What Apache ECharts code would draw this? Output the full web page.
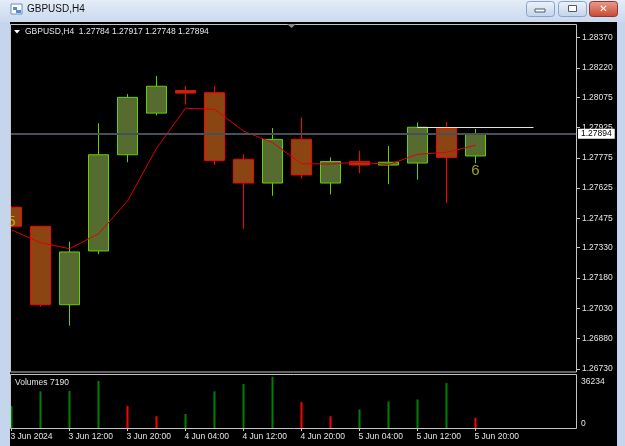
<!DOCTYPE html>
<html><head><meta charset="utf-8">
<script src="https://cdn.jsdelivr.net/npm/echarts@6/dist/echarts.min.js"></script>
<style>html,body{margin:0;padding:0;background:#000;overflow:hidden}#c{width:625px;height:446px}</style>
</head><body><div id="c"></div>
<script>
const symbol = 'GBPUSD,H4';
const times = ['3 Jun 2024','3 Jun 08:00','3 Jun 12:00','3 Jun 16:00','3 Jun 20:00','4 Jun 00:00','4 Jun 04:00','4 Jun 08:00','4 Jun 12:00','4 Jun 16:00','4 Jun 20:00','5 Jun 00:00','5 Jun 04:00','5 Jun 08:00','5 Jun 12:00','5 Jun 16:00','5 Jun 20:00'];
const futureSlots = ['6 Jun 00:00','6 Jun 04:00','6 Jun 08:00'];
const opens  = [1.27530,1.27436,1.27048,1.27314,1.27790,1.27996,1.28108,1.28097,1.27767,1.27650,1.27866,1.27650,1.27756,1.27739,1.27749,1.27922,1.27784];
const closes = [1.27436,1.27048,1.27309,1.27790,1.28074,1.28129,1.28095,1.27762,1.27650,1.27866,1.27690,1.27756,1.27739,1.27753,1.27926,1.27777,1.27894];
const lows   = [1.27430,1.27038,1.26944,1.27299,1.27753,1.27985,1.28038,1.27739,1.27424,1.27587,1.27671,1.27594,1.27698,1.27644,1.27667,1.27550,1.27748];
const highs  = [1.27535,1.27438,1.27360,1.27946,1.28090,1.28180,1.28130,1.28130,1.27792,1.27922,1.27975,1.27777,1.27810,1.27833,1.27950,1.27953,1.27917];
const maValues = [1.27418,1.27355,1.27325,1.27399,1.27561,1.27822,1.28020,1.28015,1.27907,1.27850,1.27746,1.27744,1.27754,1.27741,1.27792,1.27802,1.27837];
const volumes = [15417,25862,26287,33179,15630,8312,9946,25900,31047,36234,18259,8312,13073,18756,20177,31758,7190];
const priceTicks = [1.28370,1.28220,1.28075,1.27925,1.27775,1.27625,1.27475,1.27330,1.27180,1.27030,1.26880,1.26730];
const xTickLabels = ['3 Jun 2024','3 Jun 12:00','3 Jun 20:00','4 Jun 04:00','4 Jun 12:00','4 Jun 20:00','5 Jun 04:00','5 Jun 12:00','5 Jun 20:00'];
const bidPrice = 1.27894;
const levelFrom = '5 Jun 12:00';
const levelTo = '6 Jun 04:00';
const levelPrice = 1.27926;
const countTexts = ['5','6'];
const countBars = ['3 Jun 2024','5 Jun 20:00'];
const countPrices = [1.27457,1.27710];

const cats = times.concat(futureSlots);
const BULL_FILL = '#556b2f', BEAR_FILL = '#8b4513', BULL_LINE = '#66d000', BEAR_LINE = '#ff0000';
const candleData = opens.map((o,i)=>[o, closes[i], lows[i], highs[i]]);
const volMax = Math.max(...volumes);
const volAxisMax = Math.round(volMax*54/51.3);
const last = opens.length - 1;
const volData = volumes.map((v,i)=>({value:v, itemStyle:{color:(i===0 || v>volumes[i-1]) ? '#008000' : '#ff0000'}}));
const FONT = 'Liberation Sans';
const TXT = '#e4e4e4';
const showTick = (idx, val) => xTickLabels.indexOf(val) >= 0;

const chart = echarts.init(document.getElementById('c'), null, {renderer:'canvas'});
chart.setOption({
  animation:false,
  backgroundColor:'#000',
  title:[
    {text:symbol, left:27, top:4, padding:0, z:120, textStyle:{color:'#111', fontSize:10, fontWeight:'normal', fontFamily:FONT, lineHeight:11}},
    {text:symbol+'  '+[opens[last],highs[last],lows[last],closes[last]].map(v=>v.toFixed(5)).join(' '), left:25, top:27, padding:0, textStyle:{color:TXT, fontSize:8.5, fontWeight:'normal', fontFamily:FONT, lineHeight:10}},
    {text:'Volumes '+volumes[last], left:15, top:377.5, padding:0, textStyle:{color:TXT, fontSize:8.5, fontWeight:'normal', fontFamily:FONT, lineHeight:10}}
  ],
  grid:[
    {left:-3, width:580, top:24, height:348, outerBoundsMode:'none', containLabel:false},
    {left:-3, width:580, top:374, height:54, outerBoundsMode:'none', containLabel:false}
  ],
  xAxis:[
    {type:'category', gridIndex:0, data:cats, show:false, boundaryGap:true},
    {type:'category', gridIndex:1, data:cats, boundaryGap:true,
     axisLine:{show:false},
     axisTick:{show:true, alignWithLabel:true, interval:showTick, length:3, lineStyle:{color:'#c8c8c8'}},
     axisLabel:{show:true, interval:showTick, align:'left', margin:4, color:TXT, fontSize:8.5, fontFamily:FONT, padding:[0,0,0,-1], hideOverlap:false},
     splitLine:{show:false}}
  ],
  yAxis:[
    {type:'value', gridIndex:0, position:'right', min:1.26715, max:1.28437, scale:true,
     axisLine:{show:false}, splitLine:{show:false},
     axisTick:{show:true, customValues:priceTicks, length:3, lineStyle:{color:'#c8c8c8'}},
     axisLabel:{show:true, customValues:priceTicks, formatter:v=>v.toFixed(5), margin:5, color:TXT, fontSize:8.5, fontFamily:FONT, showMinLabel:true, showMaxLabel:true}},
    {type:'value', gridIndex:1, position:'right', min:0, max:volAxisMax,
     axisLine:{show:false}, splitLine:{show:false}, axisTick:{show:false},
     axisLabel:{show:true, customValues:[0], formatter:v=>String(v), verticalAlign:'bottom', margin:4, color:TXT, fontSize:8.5, fontFamily:FONT}},
    {type:'value', gridIndex:1, position:'right', min:0, max:volAxisMax,
     axisLine:{show:false}, splitLine:{show:false}, axisTick:{show:false},
     axisLabel:{show:true, customValues:[volMax], formatter:v=>String(v), verticalAlign:'top', margin:4, color:TXT, fontSize:8.5, fontFamily:FONT}}
  ],
  series:[
    {type:'candlestick', xAxisIndex:0, yAxisIndex:0, data:candleData, barWidth:21, clip:true, z:2,
     itemStyle:{color:BULL_FILL, color0:BEAR_FILL, borderColor:BULL_LINE, borderColor0:BEAR_LINE, borderWidth:1},
     emphasis:{disabled:true}},
    {type:'line', xAxisIndex:0, yAxisIndex:0, data:maValues, symbol:'none', smooth:false, clip:true,
     lineStyle:{color:'#e00000', width:1}, z:3, emphasis:{disabled:true},
     markLine:{silent:true, symbol:['none','none'], animation:false, precision:5,
       data:[
         {yAxis:bidPrice, lineStyle:{color:'#465058', width:2, type:'solid'},
          label:{show:true, position:'end', distance:1, formatter:()=>bidPrice.toFixed(5), color:'#000', backgroundColor:'#fff', padding:[1,3,0,3], fontSize:8.5, fontFamily:FONT, lineHeight:9}},
         [{coord:[levelFrom, levelPrice], lineStyle:{color:'#e0e0e0', width:1, type:'solid'}, label:{show:false}},
          {coord:[levelTo, levelPrice]}]
       ]}},
    {type:'scatter', xAxisIndex:0, yAxisIndex:0, symbolSize:0, z:4,
     data:countTexts.map((t,i)=>({value:[countBars[i], countPrices[i]], name:t})),
     label:{show:true, position:'inside', formatter:p=>p.name, color:'#c8c814', fontSize:15, fontFamily:FONT}},
    {type:'bar', xAxisIndex:1, yAxisIndex:1, data:volData, barWidth:2}
  ],
  graphic:[
    {type:'rect', z:100, shape:{x:0,y:0,width:625,height:22}, style:{fill:new echarts.graphic.LinearGradient(0,0,0,1,[{offset:0,color:'#e4edf8'},{offset:1,color:'#cad9ee'}])}},
    {type:'rect', z:100, shape:{x:0,y:22,width:10,height:424}, style:{fill:'#c5d6ec'}},
    {type:'rect', z:100, shape:{x:617,y:22,width:8,height:424}, style:{fill:'#c5d6ec'}},
    {type:'rect', z:101, shape:{x:10.5,y:24.5,width:566,height:347.5}, style:{fill:null, stroke:'#c4c4c4', lineWidth:1}},
    {type:'rect', z:101, shape:{x:10.5,y:374.5,width:566,height:54}, style:{fill:null, stroke:'#c4c4c4', lineWidth:1}},
    {type:'polygon', z:101, shape:{points:[[287,24],[296,24],[291.5,28]]}, style:{fill:'#8a8a8a'}},
    {type:'polygon', z:101, shape:{points:[[14,30],[20,30],[17,33.5]]}, style:{fill:'#ffffff'}},
    {type:'rect', z:101, shape:{x:11,y:4,width:11,height:10}, style:{fill:'#ffffff', stroke:'#6a8fc0', lineWidth:1}},
    {type:'rect', z:102, shape:{x:13,y:7,width:4,height:3}, style:{fill:'#5b8ad0'}},
    {type:'rect', z:102, shape:{x:16,y:10,width:5,height:3}, style:{fill:'#5b8ad0'}},
    {type:'rect', z:101, shape:{x:526.5,y:1.5,width:28,height:15,r:3}, style:{fill:new echarts.graphic.LinearGradient(0,0,0,1,[{offset:0,color:'#eef3fa'},{offset:1,color:'#c3d3ea'}]), stroke:'#8aa3c6', lineWidth:1}},
    {type:'rect', z:102, shape:{x:535,y:9,width:10,height:3}, style:{fill:'#ffffff', stroke:'#4a5a70', lineWidth:1}},
    {type:'rect', z:101, shape:{x:558.5,y:1.5,width:28,height:15,r:3}, style:{fill:new echarts.graphic.LinearGradient(0,0,0,1,[{offset:0,color:'#eef3fa'},{offset:1,color:'#c3d3ea'}]), stroke:'#8aa3c6', lineWidth:1}},
    {type:'rect', z:102, shape:{x:568.5,y:5.5,width:8,height:6}, style:{fill:'#ffffff', stroke:'#4a5a70', lineWidth:1}},
    {type:'rect', z:101, shape:{x:589.5,y:1.5,width:28,height:15,r:3}, style:{fill:new echarts.graphic.LinearGradient(0,0,0,1,[{offset:0,color:'#e8a090'},{offset:1,color:'#c9452e'}]), stroke:'#8a3a30', lineWidth:1}},
    {type:'text', z:102, style:{x:603.5,y:9,text:'✕',fill:'#ffffff',font:'bold 10px DejaVu Sans',align:'center',verticalAlign:'middle'}}
  ]
});
</script></body></html>
